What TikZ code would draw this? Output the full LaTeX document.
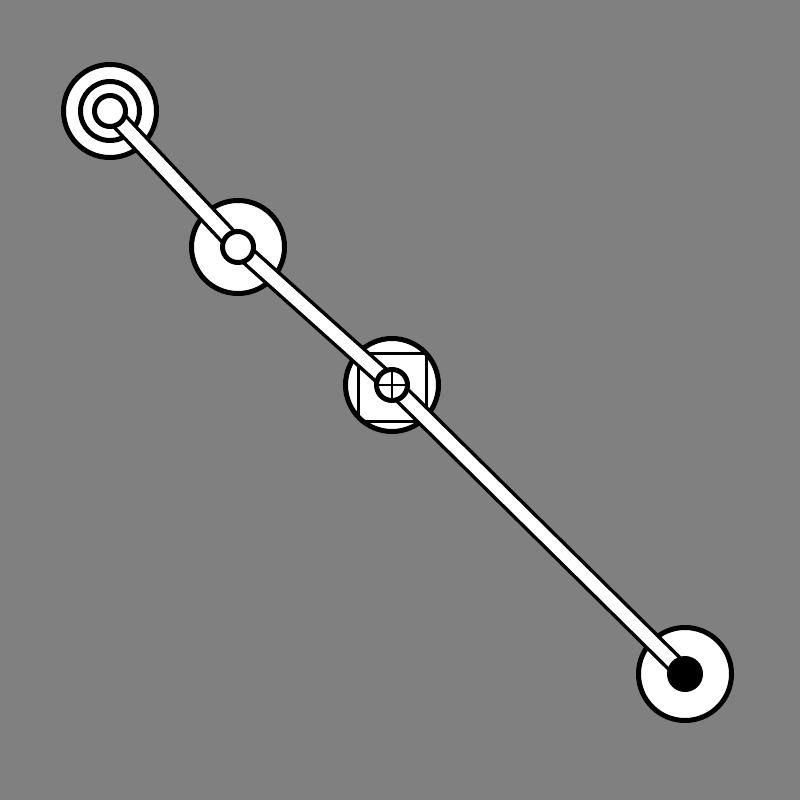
\documentclass[tikz,border=0pt]{standalone}
\usepackage{tikz}
\usetikzlibrary{positioning}

\begin{document}
\begin{tikzpicture}[x=1pt, y=-1pt,
    disc/.style = {circle, draw, fill=white, line width=5pt,
                   minimum size=93pt, inner sep=0pt},
    hole/.style = {circle, draw, fill=white, line width=5pt,
                   minimum size=31pt, inner sep=0pt},
    link/.style = {draw=black, line width=3.5pt,
                   double=white, double distance=12.5pt},
every node/.append style = {outer sep=0pt}
                    ]
\useasboundingbox (0,0) rectangle (800,800);
\fill[gray] (0,0) rectangle (800,800);
% big discs
\node (n0) [disc] at (110,111) {};
\node (n1) [disc] at (238,247) {};
\node (n2) [disc,
            path picture={\draw[line width=3pt]
              ([shift={(-34pt,-36pt)}]path picture bounding box.center)
              rectangle ++(68pt,68pt);}]  at (392,385) {};
\node (n3) [disc] at (685,674) {};
\node (r0) [circle,draw,line width=5pt,minimum size=59pt,inner sep=0pt]
      at (n0) {};
% connector
\draw[link] (n0.center) -- (n1.center) -- (n2.center) -- (n3.center);
% markers
\node (m0) [hole] at (n0) {};
\node (m1) [hole] at (n1) {};
\node (m2) [hole,
            path picture={\draw[line width=2.2pt]
              (path picture bounding box.north) -- (path picture bounding box.south)
              (path picture bounding box.west) -- (path picture bounding box.east);}]
      at (n2) {};
\node (m3) [circle,fill=black,minimum size=36pt,inner sep=0pt] at (n3) {};
\end{tikzpicture}
\end{document}
